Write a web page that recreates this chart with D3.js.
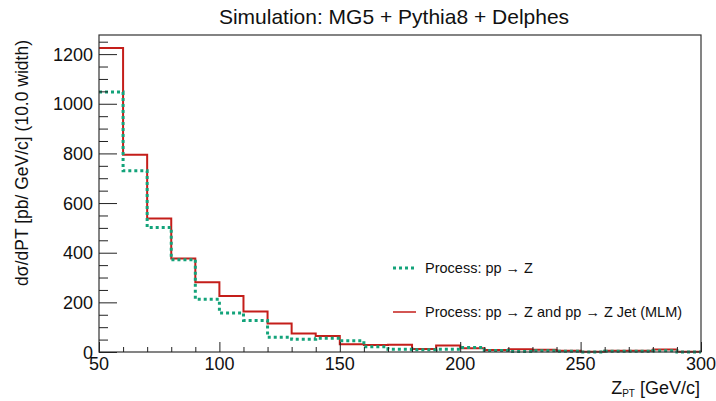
<!DOCTYPE html>
<html>
<head>
<meta charset="utf-8">
<script src="https://cdn.jsdelivr.net/npm/d3@7"></script>
<style>
  body { margin: 0; background: #fff; }
  text { font-family: "Liberation Sans", Arial, sans-serif; fill: #111; }
</style>
</head>
<body>
<svg id="svg"></svg>
<script>
// bin low edges (GeV/c), 10 GeV wide
var binEdges = [50, 60, 70, 80, 90, 100, 110, 120, 130, 140, 150, 160, 170, 180, 190,
                200, 210, 220, 230, 240, 250, 260, 270, 280, 290];
var binWidth = 10;

// pp -> Z and pp -> Z Jet (MLM)
var mlmValues = [1225, 795, 538, 377, 281, 226, 163, 115, 75, 64, 31, 28, 29, 12, 26,
                 15, 8, 11, 9, 5, 1, 5, 5, 10, 1];
// pp -> Z
var zValues = [1047, 730, 502, 372, 212, 157, 127, 59, 51, 55, 45, 21, 11, 9, 11,
               18, 6, 2, 5, 3, 0.5, 3, 3, 5, 0.5];

var xTicks = [50, 100, 150, 200, 250, 300];
var yTicks = [0, 200, 400, 600, 800, 1000, 1200];

var titleText = "Simulation: MG5 + Pythia8 + Delphes";
var legendLabels = ["Process: pp \u2192 Z", "Process: pp \u2192 Z and pp \u2192 Z Jet (MLM)"];

var width = 716, height = 401;
var plotLeft = 99, plotRight = 701, plotTop = 35, plotBottom = 352;
var redColor = "#c41e1a";
var greenColor = "#13a37a";

var svg = d3.select("#svg").attr("width", width).attr("height", height);

var x = d3.scaleLinear().domain([50, 300]).range([plotLeft, plotRight]);
var y = d3.scaleLinear().domain([0, 1277]).range([plotBottom, plotTop]);

// title
svg.append("text")
    .attr("x", 394).attr("y", 24)
    .attr("text-anchor", "middle")
    .attr("font-size", 21)
    .text(titleText);

// histograms
function histPoints(vals) {
	var pts = binEdges.map(function(e, i) { return [e, vals[i]]; });
	pts.push([binEdges[binEdges.length - 1] + binWidth, vals[vals.length - 1]]);
	return pts;
}
var line = d3.line()
	.x(function(d) { return x(d[0]); })
	.y(function(d) { return y(d[1]); })
	.curve(d3.curveStepAfter);

svg.append("path")
	.attr("d", line(histPoints(mlmValues)))
	.attr("fill", "none")
	.attr("stroke", redColor)
	.attr("stroke-width", 2);

svg.append("path")
	.attr("d", line(histPoints(zValues)))
	.attr("fill", "none")
	.attr("stroke", greenColor)
	.attr("stroke-width", 3)
	.attr("stroke-dasharray", "3,3");

// frame
svg.append("rect")
	.attr("x", plotLeft).attr("y", plotTop)
	.attr("width", plotRight - plotLeft).attr("height", plotBottom - plotTop)
	.attr("fill", "none").attr("stroke", "#333").attr("stroke-width", 1.2);

// x axis ticks (inward)
var xAxis = d3.axisTop(x).tickValues(xTicks).tickSize(10).tickFormat("");
var gx = svg.append("g").attr("transform", "translate(0," + plotBottom + ")").call(xAxis);
gx.select(".domain").remove();
var xMinor = d3.axisTop(x).tickValues(d3.range(50, 301, 10).filter(function(v) { return v % 50 != 0; }))
	.tickSize(5).tickFormat("");
var gxm = svg.append("g").attr("transform", "translate(0," + plotBottom + ")").call(xMinor);
gxm.select(".domain").remove();
svg.append("g").selectAll("text").data(xTicks).enter().append("text")
	.attr("x", function(d) { return x(d); })
	.attr("y", 370)
	.attr("text-anchor", "middle")
	.attr("font-size", 18)
	.text(function(d) { return d; });

// y axis ticks (inward)
var yAxis = d3.axisRight(y).tickValues(yTicks).tickSize(18).tickFormat("");
var gy = svg.append("g").attr("transform", "translate(" + plotLeft + ",0)").call(yAxis);
gy.select(".domain").remove();
var yMinor = d3.axisRight(y).tickValues(d3.range(50, 1277, 50).filter(function(v) { return v % 200 != 0; }))
	.tickSize(9).tickFormat("");
var gym = svg.append("g").attr("transform", "translate(" + plotLeft + ",0)").call(yMinor);
gym.select(".domain").remove();
svg.selectAll(".tick line").attr("stroke", "#222").attr("stroke-width", 1);
svg.append("g").selectAll("text").data(yTicks).enter().append("text")
	.attr("x", 93)
	.attr("y", function(d) { return y(d) + 6.5; })
	.attr("text-anchor", "end")
	.attr("font-size", 18)
	.text(function(d) { return d; });

// axis titles
svg.append("text")
	.attr("transform", "translate(28,40) rotate(-90)")
	.attr("text-anchor", "end")
	.attr("font-size", 17.5)
	.text("d\u03c3/dPT [pb/ GeV/c] (10.0 width)");

var xt = svg.append("text")
	.attr("x", 700).attr("y", 394)
	.attr("text-anchor", "end")
	.attr("font-size", 18);
xt.append("tspan").text("Z");
xt.append("tspan").attr("font-size", 10).attr("dy", 3).text("PT");
xt.append("tspan").attr("dy", -3).text(" [GeV/c]");

// legend
var legendY = [268, 312];
var lg = svg.append("g");
lg.append("line")
	.attr("x1", 393).attr("x2", 416).attr("y1", legendY[0]).attr("y2", legendY[0])
	.attr("stroke", greenColor).attr("stroke-width", 3).attr("stroke-dasharray", "3,3");
lg.append("line")
	.attr("x1", 393).attr("x2", 416).attr("y1", legendY[1]).attr("y2", legendY[1])
	.attr("stroke", redColor).attr("stroke-width", 1.5);
lg.selectAll("text.leg").data(legendLabels).enter().append("text")
	.attr("class", "leg")
	.attr("x", 425)
	.attr("y", function(d, i) { return legendY[i] + 5; })
	.attr("font-size", 14.5)
	.text(function(d) { return d; });
</script>
</body>
</html>
